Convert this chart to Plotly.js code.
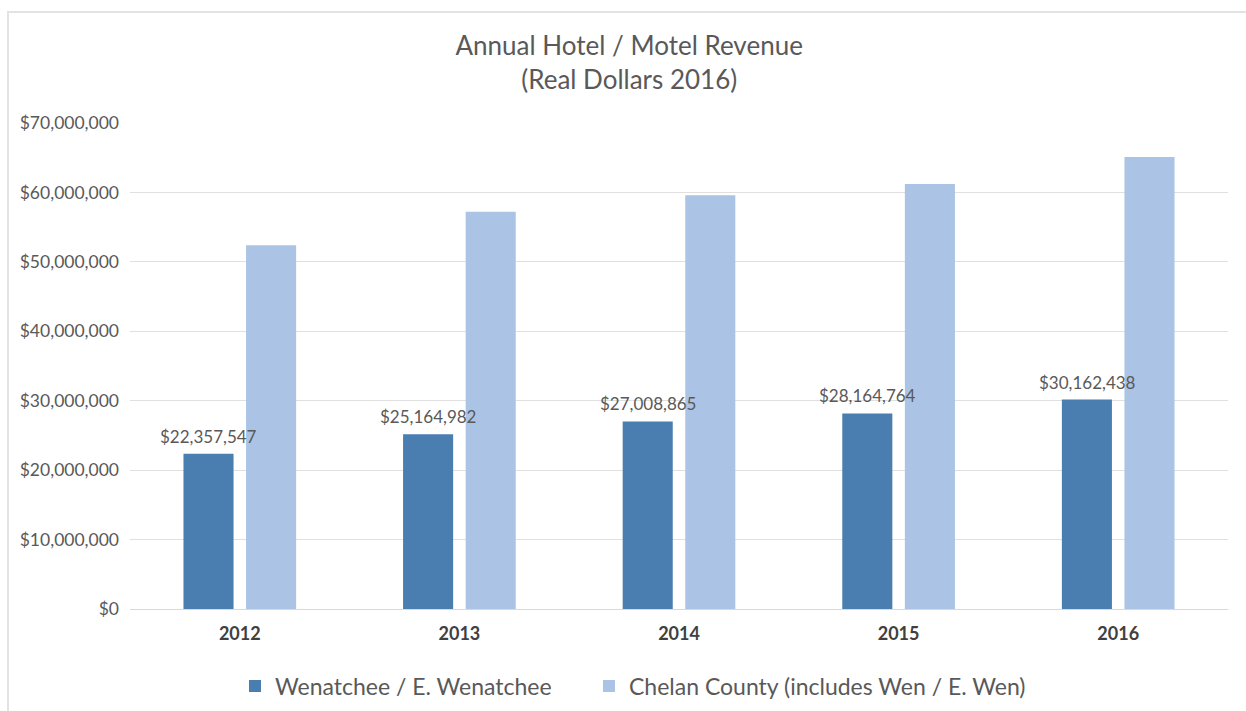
<!DOCTYPE html>
<html>
<head>
<meta charset="utf-8">
<script src="https://cdn.plot.ly/plotly-3.0.1.min.js"></script>
<style>
  body { margin: 0; background: #ffffff; }
  #chart { position: absolute; left: 0; top: 0; width: 1246px; height: 711px; }
  #frame { position: absolute; left: 7px; top: 11px; width: 1250px; height: 710px;
           border-left: 2px solid #e3e3e3; border-top: 2px solid #e3e3e3; pointer-events: none; }
</style>
</head>
<body>
<div id="chart"></div>
<div id="frame"></div>
<script>
var years = ['2012', '2013', '2014', '2015', '2016'];
var wenatchee = [22357547, 25164982, 27008865, 28164764, 30162438];
var chelan = [52400000, 57200000, 59600000, 61200000, 65100000];

var fontFam = 'Lato, "Open Sans", sans-serif';

var traces = [
  { x: years,
    y: wenatchee,
    name: 'Wenatchee / E. Wenatchee',
    type: 'bar',
    marker: {color: '#4a7eb0'},
    legend: 'legend'
  },
  { x: years,
    y: chelan,
    name: 'Chelan County (includes Wen / E. Wen)',
    type: 'bar',
    marker: {color: '#abc4e5'},
    legend: 'legend2'
  }
];

// value labels over the Wenatchee bars, drawn on top so the light bars don't hide them
var labels = years.map(function(yr, i) {
  return {
    x: yr, y: wenatchee[i], xref: 'x', yref: 'y',
    text: '$' + wenatchee[i].toLocaleString('en-US'),
    showarrow: false, xanchor: 'center', yanchor: 'bottom',
    xshift: -31, yshift: 5,
    font: {family: fontFam, size: 17, color: '#595959'}
  };
});

var legendFont = {size: 23, color: '#595959', family: fontFam};

var layout = {
  width: 1246, height: 711,
  margin: {l: 130, r: 18, t: 123, b: 102},
  paper_bgcolor: '#ffffff',
  plot_bgcolor: '#ffffff',
  font: {family: fontFam, color: '#595959'},
  title: {text: 'Annual Hotel / Motel Revenue<br>(Real Dollars 2016)',
          font: {size: 26, color: '#595959', family: fontFam},
          xref: 'container', x: 0.505, xanchor: 'center',
          yref: 'container', y: 0.923, yanchor: 'middle'},
  barmode: 'group',
  bargap: 0.43,
  bargroupgap: 0.2,
  annotations: labels,
  xaxis: {
    tickfont: {size: 18, color: '#404040', family: fontFam, weight: 'bold'},
    showline: true, linecolor: '#d9d9d9', linewidth: 1,
    ticks: '', showgrid: false, automargin: false,
    ticklabelstandoff: 8
  },
  yaxis: {
    range: [0, 70000000],
    dtick: 10000000,
    tickformat: '$,.0f',
    tickfont: {size: 17.5, color: '#595959', family: fontFam},
    gridcolor: '#e0e0e0', gridwidth: 1,
    zeroline: false,
    ticks: '', ticklen: 0,
    ticklabelstandoff: 10,
    automargin: false
  },
  showlegend: true,
  legend: {orientation: 'h', xref: 'container', x: 0.1886, xanchor: 'left',
           yref: 'container', y: 0.035, yanchor: 'middle', font: legendFont},
  legend2: {orientation: 'h', xref: 'container', x: 0.4727, xanchor: 'left',
            yref: 'container', y: 0.035, yanchor: 'middle', font: legendFont}
};

Plotly.newPlot('chart', traces, layout, {displayModeBar: false, staticPlot: true});
</script>
</body>
</html>
